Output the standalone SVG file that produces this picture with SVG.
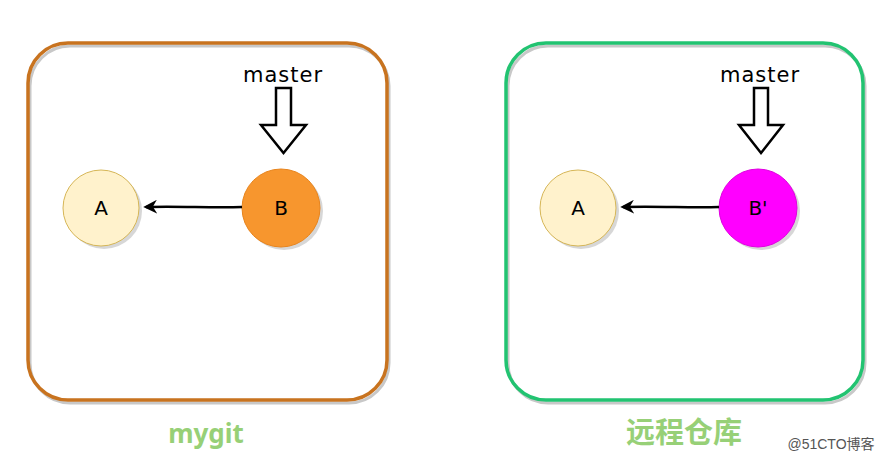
<svg xmlns="http://www.w3.org/2000/svg" width="890" height="461" viewBox="0 0 890 461">
<style>
.shadow{fill:none;stroke:#c8c8c8;stroke-width:3}
.box{fill:none;stroke-width:3.5}
.cshadow{fill:#bdbdbd;opacity:0.6}
.lbl{font-family:"DejaVu Sans",sans-serif;font-size:20px;fill:#000;text-anchor:middle}
.master{font-family:"DejaVu Sans",sans-serif;font-size:21px;fill:#000;text-anchor:middle;letter-spacing:1px}
.ptr{fill:#fff;stroke:#000;stroke-width:2.5;stroke-linejoin:miter}
.title{font-family:"Noto Sans","Noto Sans CJK SC",sans-serif;font-weight:bold;fill:#97d077;text-anchor:middle}
.conn{stroke:#000;stroke-width:2.5;fill:none}
</style>
<defs>
<marker id="arr" viewBox="0 0 10 10" refX="8" refY="5" markerWidth="5.5" markerHeight="5.5" orient="auto" markerUnits="strokeWidth">
<path d="M0,0 L10,5 L0,10 L3,5 Z" fill="#000"/>
</marker>
</defs>
<rect width="890" height="461" fill="#fff"/>
<g id="mygit">
<rect class="shadow" x="30" y="46" width="359" height="357" rx="40"/>
<rect class="box" stroke="#c8731f" x="28" y="43" width="359" height="357" rx="40"/>
<text class="title" x="206" y="443" font-size="26">mygit</text>
</g>
<g id="remote">
<rect class="shadow" x="508" y="46" width="357" height="357" rx="40"/>
<rect class="box" stroke="#22c371" x="506" y="43" width="357" height="357" rx="40"/>
<text class="title" x="684" y="443" font-size="29">远程仓库</text>
</g>
<g id="left-A">
<circle class="cshadow" cx="104" cy="211" r="38"/>
<circle cx="101" cy="208" r="38" fill="#fff2cc" stroke="#d6b656" stroke-width="1"/>
<text class="lbl" x="101" y="215">A</text>
</g>
<g id="left-B">
<circle class="cshadow" cx="284" cy="211" r="39"/>
<circle cx="281" cy="208" r="39" fill="#f7962e" stroke="#e8841c" stroke-width="1"/>
<text class="lbl" x="281" y="215">B</text>
</g>
<g id="left-master">
<text class="master" x="283" y="82">master</text>
<polygon class="ptr" points="276,88 291,88 291,125 306,125 283.5,153 261,125 276,125"/>
</g>
<g id="right-A">
<circle class="cshadow" cx="581" cy="211" r="38"/>
<circle cx="578" cy="208" r="38" fill="#fff2cc" stroke="#d6b656" stroke-width="1"/>
<text class="lbl" x="578" y="215">A</text>
</g>
<g id="right-B">
<circle class="cshadow" cx="761" cy="211" r="39"/>
<circle cx="758" cy="208" r="39" fill="#ff00ff" stroke="#e000e0" stroke-width="1"/>
<text class="lbl" x="758" y="215">B'</text>
</g>
<g id="right-master">
<text class="master" x="760" y="82">master</text>
<polygon class="ptr" points="754,88 768,88 768,125 783,125 761,153 739,125 754,125"/>
</g>
<g id="connectors">
<path class="conn" d="M242,207 C210,208 180,206 146,207" marker-end="url(#arr)"/>
<path class="conn" d="M719,207 C690,208 660,206 623,207" marker-end="url(#arr)"/>
</g>
<text x="831" y="449" font-family="'Liberation Sans','Noto Sans CJK SC',sans-serif" font-size="14" fill="#555" text-anchor="middle">@51CTO博客</text>
</svg>
